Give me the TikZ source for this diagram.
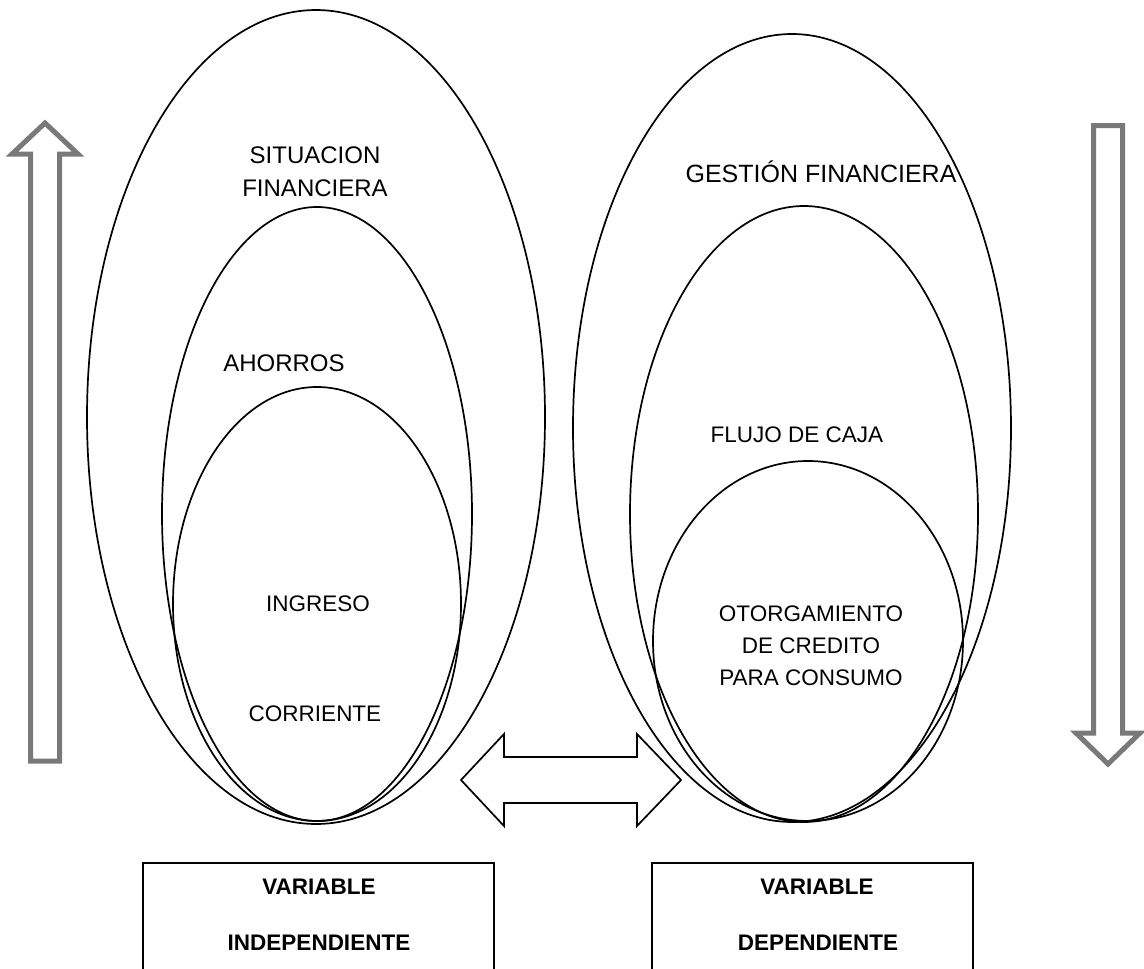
\documentclass[tikz,border=0pt]{standalone}
\usepackage{fontspec}
\setmainfont{Liberation Sans}
\begin{document}
\begin{tikzpicture}[x=1pt,y=-1pt,
  ring/.style={draw=black,line width=1.7pt},
  greyarrow/.style={draw=gray!95!black,line width=5pt,fill=white,line join=miter},
  bothways/.style={draw=black,line width=1.7pt,fill=white,line join=miter},
  varbox/.style={draw=black,line width=1.8pt},
  lbl/.style={inner sep=0pt,font=\fontsize{24}{28}\selectfont},
  lblsmall/.style={inner sep=0pt,align=center,font=\fontsize{22.5}{32}\selectfont},
  lblbold/.style={inner sep=0pt,font=\fontsize{22.5}{26}\selectfont\bfseries}]
\useasboundingbox (0,0) rectangle (1144,969);

% left group of nested ellipses
\draw[ring] (316,417) ellipse [x radius=229, y radius=407];
\draw[ring] (317,514) ellipse [x radius=155, y radius=307];
\draw[ring] (317,604) ellipse [x radius=144, y radius=217];

% right group of nested ellipses
\draw[ring] (792,428) ellipse [x radius=219, y radius=394];
\draw[ring] (804,514) ellipse [x radius=174, y radius=308];
\draw[ring] (808,641) ellipse [x radius=155, y radius=180];

% upward arrow on the left
\draw[greyarrow] (30.5,761) -- (30.5,154) -- (12,154) -- (45,123) -- (78,154)
  -- (59.5,154) -- (59.5,761) -- cycle;

% downward arrow on the right
\draw[greyarrow] (1093.5,125.5) -- (1122.5,125.5) -- (1122.5,733) -- (1140,733)
  -- (1108,764) -- (1076,733) -- (1093.5,733) -- cycle;

% two-headed arrow between the groups
\draw[bothways] (461,780) -- (504,734) -- (504,757) -- (637,757) -- (637,734)
  -- (681,780) -- (637,826) -- (637,803) -- (504,803) -- (504,826) -- cycle;

% variable boxes, open at the bottom
\draw[varbox] (143,969) -- (143,863) -- (494,863) -- (494,969);
\draw[varbox] (652,969) -- (652,863) -- (973,863) -- (973,969);

% labels
\node[lbl] (sit1) at (315,155) {SITUACION};
\node[lbl] (sit2) at (315,188) {FINANCIERA};
\node[lbl,font=\fontsize{25}{28}\selectfont] (ges) at (821,172) {GESTIÓN FINANCIERA};
\node[lbl] (aho) at (284,363) {AHORROS};
\node[lbl,font=\fontsize{22.5}{28}\selectfont] (flu) at (797,435) {FLUJO DE CAJA};
\node[lblsmall] (ing) at (318,604) {INGRESO};
\node[lblsmall] (cor) at (315,714) {CORRIENTE};
\node[lblsmall] (oto) at (811,646) {OTORGAMIENTO\\DE CREDITO\\PARA CONSUMO};
\node[lblbold] (var1) at (319,887) {VARIABLE};
\node[lblbold] (ind) at (319,943) {INDEPENDIENTE};
\node[lblbold] (var2) at (817,887) {VARIABLE};
\node[lblbold] (dep) at (818,943) {DEPENDIENTE};
\end{tikzpicture}
\end{document}
